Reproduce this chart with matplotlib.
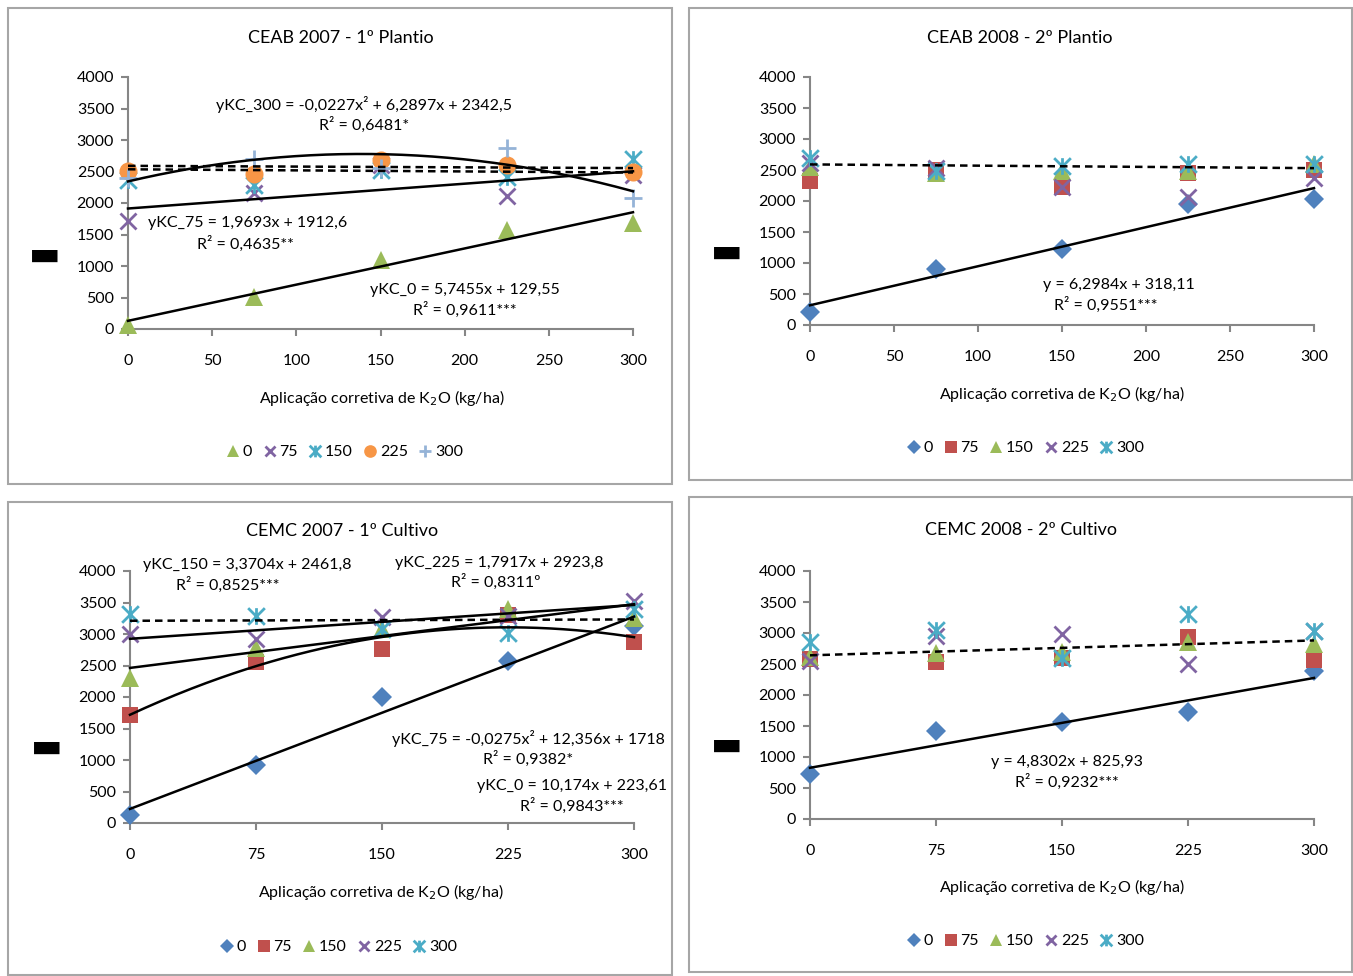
import numpy as np
import matplotlib
matplotlib.use("Agg")
import matplotlib.pyplot as plt
from matplotlib.path import Path
from matplotlib.lines import Line2D
from matplotlib.patches import Rectangle

plt.rcParams['font.family'] = ['Lato', 'DejaVu Sans']

W, H = 1353, 976

# ---------------- data ----------------
doses = [0, 75, 150, 225, 300]

# Panel 1: CEAB 2007 - 1º Plantio
p1_kc0 = [60, 510, 1100, 1575, 1680]
p1_kc75 = [1715, 2160, 2600, 2110, 2450]
p1_kc150 = [2370, 2280, 2530, 2420, 2700]
p1_kc225 = [2510, 2460, 2690, 2600, 2500]
p1_kc300 = [2400, 2700, 2550, 2880, 2080]

# Panel 2: CEAB 2008 - 2º Plantio
p2_kc0 = [215, 900, 1225, 1955, 2035]
p2_kc75 = [2330, 2500, 2230, 2450, 2500]
p2_kc150 = [2550, 2450, 2480, 2480, 2600]
p2_kc225 = [2620, 2530, 2220, 2060, 2370]
p2_kc300 = [2700, 2480, 2560, 2590, 2600]

# Panel 3: CEMC 2007 - 1º Cultivo
p3_kc0 = [130, 925, 2000, 2575, 3130]
p3_kc75 = [1720, 2560, 2760, 3300, 2870]
p3_kc150 = [2300, 2780, 3080, 3400, 3250]
p3_kc225 = [3000, 2920, 3270, 3280, 3530]
p3_kc300 = [3320, 3280, 3080, 3010, 3400]

# Panel 4: CEMC 2008 - 2º Cultivo
p4_kc0 = [725, 1420, 1565, 1725, 2385]
p4_kc75 = [2580, 2530, 2600, 2930, 2570]
p4_kc150 = [2620, 2670, 2700, 2860, 2830]
p4_kc225 = [2550, 2950, 2980, 2500, 3040]
p4_kc300 = [2850, 3050, 2600, 3300, 3030]

# regression coefficients (highest power first)
p1_fit_kc0 = [5.7455, 129.55]
p1_fit_kc75 = [1.9693, 1912.6]
p1_fit_kc300 = [-0.0227, 6.2897, 2342.5]
p1_dash_a = [-0.12, 2590]
p1_dash_b = [-0.17, 2535]
p2_fit_kc0 = [6.2984, 318.11]
p2_dash = [-0.2, 2590]
p3_fit_kc0 = [10.174, 223.61]
p3_fit_kc75 = [-0.0275, 12.356, 1718]
p3_fit_kc150 = [3.3704, 2461.8]
p3_fit_kc225 = [1.7917, 2923.8]
p3_dash = [0.07, 3210]
p4_fit_kc0 = [4.8302, 825.93]
p4_dash = [0.8, 2640]

titles = ["CEAB 2007 - 1º Plantio", "CEAB 2008 - 2º Plantio",
          "CEMC 2007 - 1º Cultivo", "CEMC 2008 - 2º Cultivo"]
xlabel = "Aplicação corretiva de K$_2$O (kg/ha)"
legend_labels = ["0", "75", "150", "225", "300"]

# ---------------- styles ----------------
BLUE, RED, GREEN, PURPLE, TEAL = '#4F81BD', '#C0504D', '#9BBB59', '#8064A2', '#4BACC6'
ORANGE, LBLUE = '#F79646', '#95B3D7'
GRAY = '#868686'

star = Path([(-1, -1), (1, 1), (-1, 1), (1, -1), (0, -1), (0, 1)],
            [Path.MOVETO, Path.LINETO, Path.MOVETO, Path.LINETO, Path.MOVETO, Path.LINETO])

STY = {
    'tri': dict(marker='^', color=GREEN, ms=13, mew=0),
    'x': dict(marker='x', color=PURPLE, ms=11, mew=2),
    'star': dict(marker=star, color=TEAL, ms=12, mew=2),
    'circ': dict(marker='o', color=ORANGE, ms=13, mew=0),
    'plus': dict(marker='+', color=LBLUE, ms=13, mew=2),
    'dia': dict(marker='D', color=BLUE, ms=10, mew=0),
    'sq': dict(marker='s', color=RED, ms=11.5, mew=0),
}


def fx(px):
    return px / W


def fy(py):
    return 1 - py / H


fig = plt.figure(figsize=(W / 100, H / 100), dpi=100)

# panel borders
for (x0, y0, x1, y1) in [(8, 8, 672, 484), (689, 8, 1352, 480), (8, 502, 672, 975), (689, 497, 1352, 972)]:
    fig.patches.append(Rectangle((fx(x0), fy(y1)), fx(x1) - fx(x0), fy(y0) - fy(y1),
                                 transform=fig.transFigure, fill=False, ec='#A6A6A6', lw=1.5))

panels = [
    dict(rect=(128, 77, 633, 329), xt=[0, 50, 100, 150, 200, 250, 300],
         series=[(p1_kc0, 'tri'), (p1_kc75, 'x'), (p1_kc150, 'star'), (p1_kc225, 'circ'), (p1_kc300, 'plus')],
         fits=[p1_fit_kc0, p1_fit_kc75, p1_fit_kc300], dashes=[p1_dash_a, p1_dash_b],
         title=(341, 38), xl=(382, 398), leg=(344, 452), yb=(45, 255),
         texts=[(140, 3570, "yKC_300 = -0,0227x² + 6,2897x + 2342,5"), (140, 3240, "R² = 0,6481*"),
                (71, 1690, "yKC_75 = 1,9693x + 1912,6"), (70, 1350, "R² = 0,4635**"),
                (200, 620, "yKC_0 = 5,7455x + 129,55"), (200, 300, "R² = 0,9611***")]),
    dict(rect=(810, 77, 1314, 325), xt=[0, 50, 100, 150, 200, 250, 300],
         series=[(p2_kc0, 'dia'), (p2_kc75, 'sq'), (p2_kc150, 'tri'), (p2_kc225, 'x'), (p2_kc300, 'star')],
         fits=[p2_fit_kc0], dashes=[p2_dash],
         title=(1020, 38), xl=(1062, 394), leg=(1025, 448), yb=(727, 252),
         texts=[(184, 645, "y = 6,2984x + 318,11"), (176, 323, "R² = 0,9551***")]),
    dict(rect=(130, 571, 634, 823), xt=[0, 75, 150, 225, 300],
         series=[(p3_kc0, 'dia'), (p3_kc75, 'sq'), (p3_kc150, 'tri'), (p3_kc225, 'x'), (p3_kc300, 'star')],
         fits=[p3_fit_kc0, p3_fit_kc75, p3_fit_kc150, p3_fit_kc225], dashes=[p3_dash],
         title=(342, 531), xl=(381, 892), leg=(338, 947), yb=(47, 747),
         texts=[(70, 4095, "yKC_150 = 3,3704x + 2461,8"), (58, 3780, "R² = 0,8525***"),
                (220, 4125, "yKC_225 = 1,7917x + 2923,8"), (218, 3825, "R² = 0,8311º"),
                (237, 1335, "yKC_75 = -0,0275x² + 12,356x + 1718"), (237, 1015, "R² = 0,9382*"),
                (263, 585, "yKC_0 = 10,174x + 223,61"), (263, 270, "R² = 0,9843***")]),
    dict(rect=(810, 571, 1314, 819), xt=[0, 75, 150, 225, 300],
         series=[(p4_kc0, 'dia'), (p4_kc75, 'sq'), (p4_kc150, 'tri'), (p4_kc225, 'x'), (p4_kc300, 'star')],
         fits=[p4_fit_kc0], dashes=[p4_dash],
         title=(1021, 530), xl=(1062, 887), leg=(1025, 941), yb=(727, 745),
         texts=[(153, 920, "y = 4,8302x + 825,93"), (153, 597, "R² = 0,9232***")]),
]

xx = np.linspace(0, 300, 200)
for i, p in enumerate(panels):
    x0, y0, x1, y1 = p['rect']
    ax = fig.add_axes([fx(x0), fy(y1), fx(x1) - fx(x0), fy(y0) - fy(y1)])
    ax.set_xlim(0, 300)
    ax.set_ylim(0, 4000)
    for s in ['top', 'right']:
        ax.spines[s].set_visible(False)
    for s in ['left', 'bottom']:
        ax.spines[s].set_color(GRAY)
        ax.spines[s].set_linewidth(1.5)
    ax.set_yticks(np.arange(0, 4001, 500))
    ax.set_xticks(p['xt'])
    ax.tick_params(axis='x', direction='out', length=5, width=1.5, color=GRAY, pad=13, labelsize=11.5)
    ax.tick_params(axis='y', direction='out', length=5, width=1.5, color=GRAY, pad=5, labelsize=11.5)
    ax.patch.set_alpha(0)

    handles = []
    for vals, key in p['series']:
        st = STY[key]
        ax.plot(doses, vals, ls='none', marker=st['marker'], color=st['color'],
                ms=st['ms'], mew=st['mew'], clip_on=False, zorder=3)
        handles.append(Line2D([], [], ls='none', marker=st['marker'], color=st['color'],
                              ms=st['ms'] * 0.7, mew=st['mew']))
    for c in p['fits']:
        ax.plot(xx, np.polyval(c, xx), color='black', lw=1.8, zorder=4, clip_on=False)
    for c in p['dashes']:
        ax.plot(xx, np.polyval(c, xx), color='black', lw=1.8, ls=(0, (3, 2)), zorder=4, clip_on=False)
    for tx, ty, s in p['texts']:
        ax.text(tx, ty, s, ha='center', va='center', fontsize=11.5, zorder=5)

    fig.text(fx(p['title'][0]), fy(p['title'][1]), titles[i], ha='center', va='center', fontsize=13)
    fig.text(fx(p['xl'][0]), fy(p['xl'][1]), xlabel, ha='center', va='center', fontsize=11.5)
    fig.text(fx(p['yb'][0]), fy(p['yb'][1]), "▬", ha='center', va='center', fontsize=24,
             family='DejaVu Sans', color='black')
    ax.legend(handles, legend_labels, loc='center', bbox_to_anchor=(fx(p['leg'][0]), fy(p['leg'][1])),
              bbox_transform=fig.transFigure, ncol=5, frameon=False, handletextpad=0.1,
              columnspacing=0.6, handlelength=1.0, fontsize=11.5, borderpad=0)

fig.savefig("out.png", dpi=100)
